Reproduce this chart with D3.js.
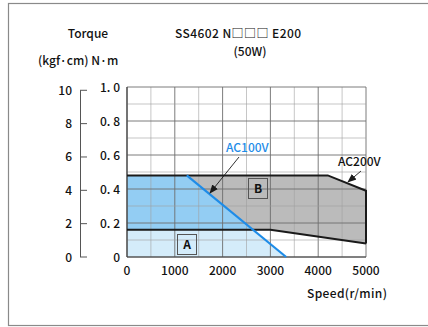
<!DOCTYPE html>
<html>
<head>
<meta charset="utf-8">
<script src="https://d3js.org/d3.v7.min.js"></script>
<style>
  body { margin: 0; background: #fff; }
  svg text { font-family: "Noto Sans CJK JP", "DejaVu Sans", sans-serif; font-size: 12px; fill: #111; font-weight: 500; }
</style>
</head>
<body>
<div id="chart"></div>
<script>
// data
const speedTicks = [0, 1000, 2000, 3000, 4000, 5000];
const nmTicks = [0, 0.2, 0.4, 0.6, 0.8, 1.0];
const kgfTicks = [0, 2, 4, 6, 8, 10];
const ac200Upper = [[0, 0.48], [4200, 0.48], [5000, 0.39]];
const ac200Lower = [[0, 0.16], [3000, 0.16], [5000, 0.08]];
const ac100Line = [[1250, 0.48], [3330, 0]];

const W = 428, H = 327;
const svg = d3.select("#chart").append("svg").attr("width", W).attr("height", H);

// outer frame
svg.append("rect").attr("x", 8.5).attr("y", 3.5).attr("width", 440).attr("height", 322)
  .attr("fill", "none").attr("stroke", "#8a8a8a").attr("stroke-width", 1.2);

const x = d3.scaleLinear().domain([0, 5000]).range([127, 366]);
const y = d3.scaleLinear().domain([0, 1.0]).range([257, 87]);
const yk = d3.scaleLinear().domain([0, 10]).range([y(0), y(0.980665)]);

const line = d3.line().x(d => x(d[0])).y(d => y(d[1]));

// region B (gray) between the AC200V lines
const grayPoly = ac200Upper.concat(ac200Lower.slice().reverse());
svg.append("path").attr("d", line(grayPoly) + "Z").attr("fill", "#bbbbbb");

// AC100V area
const bluePoly = [[0, 0], [0, ac100Line[0][1]]].concat(ac100Line);
svg.append("path").attr("d", line(bluePoly) + "Z").attr("fill", "#93cdf3");

// light part (A) below the lower line
svg.append("clipPath").attr("id", "below")
  .append("path").attr("d", line([[0, 0]].concat(ac200Lower, [[5000, 0]])) + "Z");
svg.append("path").attr("d", line(bluePoly) + "Z").attr("fill", "#d4ecfa")
  .attr("clip-path", "url(#below)");

// grid
const g = svg.append("g");
d3.range(0, 5001, 500).forEach(v => {
  g.append("line").attr("x1", x(v)).attr("x2", x(v)).attr("y1", y(0)).attr("y2", y(1))
    .attr("stroke", v % 1000 === 0 ? "#6e6e6e" : "#a0a0a0")
    .attr("stroke-width", v % 1000 === 0 ? 0.9 : 0.6);
});
d3.range(0, 11).forEach(i => {
  const v = i / 10;
  g.append("line").attr("x1", x(0)).attr("x2", x(5000)).attr("y1", y(v)).attr("y2", y(v))
    .attr("stroke", i % 2 === 0 ? "#6e6e6e" : "#a0a0a0")
    .attr("stroke-width", i % 2 === 0 ? 0.9 : 0.6);
});

// axes (left and bottom edges)
svg.append("line").attr("x1", x(0)).attr("x2", x(0)).attr("y1", y(0)).attr("y2", y(1))
  .attr("stroke", "#444").attr("stroke-width", 1.2);
svg.append("line").attr("x1", x(0)).attr("x2", x(5000)).attr("y1", y(0)).attr("y2", y(0))
  .attr("stroke", "#444").attr("stroke-width", 1.2);

// curves
svg.append("path").attr("d", line(ac200Upper.concat([[5000, ac200Lower[2][1]]])))
  .attr("fill", "none").attr("stroke", "#1a1a1a").attr("stroke-width", 2);
svg.append("path").attr("d", line(ac200Lower))
  .attr("fill", "none").attr("stroke", "#1a1a1a").attr("stroke-width", 2);
svg.append("path").attr("d", line(ac100Line))
  .attr("fill", "none").attr("stroke", "#1e8ce8").attr("stroke-width", 2.2);

// x tick labels
svg.append("g").selectAll("text").data(speedTicks).join("text")
  .attr("x", d => x(d)).attr("y", 275).attr("text-anchor", "middle").text(d => d);

// N·m tick labels
svg.append("g").selectAll("text").data(nmTicks).join("text")
  .attr("x", 120).attr("y", d => y(d) + 4.5).attr("text-anchor", "end")
  .text(d => d === 0 ? "0" : d.toFixed(1).replace(".", ". "));

// kgf·cm axis
const kAxis = svg.append("g");
kAxis.append("line").attr("x1", 80.5).attr("x2", 80.5).attr("y1", yk(10)).attr("y2", yk(0))
  .attr("stroke", "#555").attr("stroke-width", 1);
kAxis.selectAll("line.t").data(kgfTicks).join("line").attr("class", "t")
  .attr("x1", 80).attr("x2", 87).attr("y1", d => yk(d)).attr("y2", d => yk(d))
  .attr("stroke", "#555").attr("stroke-width", 1);
kAxis.selectAll("text").data(kgfTicks).join("text")
  .attr("x", 72).attr("y", d => yk(d) + 4.5).attr("text-anchor", "end").text(d => d);

// titles
svg.append("text").attr("x", 88).attr("y", 38).attr("text-anchor", "middle").text("Torque");
svg.append("text").attr("x", 38).attr("y", 65).text("(kgf·cm) N·m");
svg.append("text").attr("x", 175).attr("y", 38).attr("textLength", 126).text("SS4602 N□□□ E200");
svg.append("text").attr("x", 250).attr("y", 56).attr("text-anchor", "middle").text("(50W)");
svg.append("text").attr("x", 307).attr("y", 298).attr("textLength", 80).text("Speed(r/min)");

// region boxes
const boxes = [{ t: "A", x0: 177, y0: 234 }, { t: "B", x0: 248, y0: 178 }];
boxes.forEach(b => {
  svg.append("rect").attr("x", b.x0 + 0.5).attr("y", b.y0 + 0.5).attr("width", 19).attr("height", 20)
    .attr("fill", "none").attr("stroke", "#555").attr("stroke-width", 1);
  svg.append("text").attr("x", b.x0 + 10).attr("y", b.y0 + 15).attr("text-anchor", "middle")
    .style("font-weight", "bold").text(b.t);
});

// arrows
svg.append("defs").append("marker").attr("id", "ah").attr("viewBox", "0 0 10 10")
  .attr("refX", 9).attr("refY", 5).attr("markerWidth", 9).attr("markerHeight", 9)
  .attr("markerUnits", "userSpaceOnUse").attr("orient", "auto")
  .append("path").attr("d", "M0,1 L10,5 L0,9 Z").attr("fill", "#1a1a1a");

svg.append("line").attr("x1", 239).attr("y1", 157).attr("x2", 210).attr("y2", 193)
  .attr("stroke", "#1a1a1a").attr("stroke-width", 0.9).attr("marker-end", "url(#ah)");
svg.append("line").attr("x1", 361).attr("y1", 171).attr("x2", 348).attr("y2", 182)
  .attr("stroke", "#1a1a1a").attr("stroke-width", 0.9).attr("marker-end", "url(#ah)");

svg.append("text").attr("x", 226).attr("y", 152).style("fill", "#1e8ce8").text("AC100V");
svg.append("text").attr("x", 338).attr("y", 166).text("AC200V");
</script>
</body>
</html>
